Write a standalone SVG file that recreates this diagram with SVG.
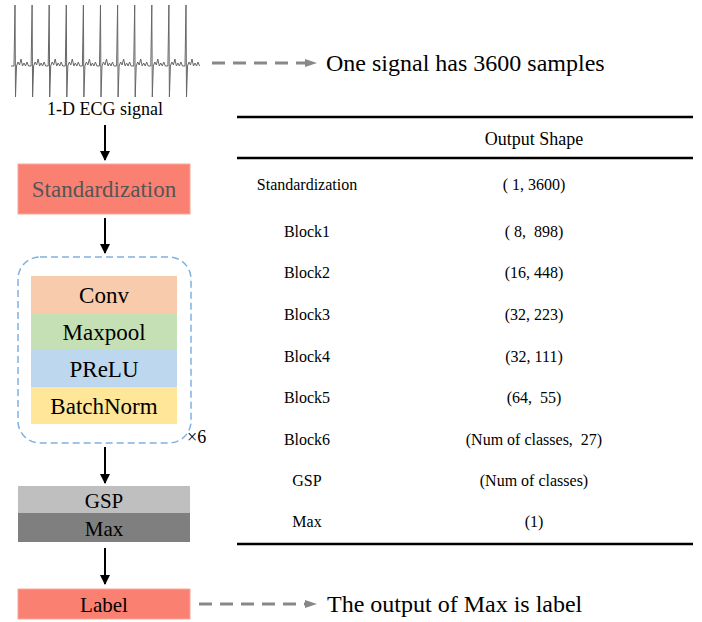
<svg xmlns="http://www.w3.org/2000/svg" width="702" height="622" viewBox="0 0 702 622">
<defs>
<style>
.t{font-family:"Liberation Serif","Times New Roman",serif;fill:#000}
.c{text-anchor:middle}
.arr{stroke:#000;stroke-width:2;fill:none;marker-end:url(#ah)}
.dash{stroke:#888;stroke-width:3;stroke-dasharray:13 8;fill:none}
.rule{stroke:#000;stroke-width:2.5}
</style>
<marker id="ah" viewBox="0 0 10 10" refX="9" refY="5" markerWidth="5" markerHeight="5" orient="auto" markerUnits="strokeWidth">
<path d="M0,0 L10,5 L0,10 z" fill="#000"/>
</marker>
</defs>
<rect width="702" height="622" fill="#fff"/>

<g id="ecg">
<path fill="none" stroke="#666" stroke-width="1" stroke-linejoin="round" d="M11,66 l3,0
l1,-61 l0.5,92 l1,-31 l1.5,-4 l1.5,3 l1.5,-6 l1.5,7 l1.5,-3 l1.5,3 l1.5,-4 l1.5,4 l2.6,0
l1,-61 l0.5,92 l1,-31 l1.5,-4 l1.5,3 l1.5,-6 l1.5,7 l1.5,-3 l1.5,3 l1.5,-4 l1.5,4 l2.6,0
l1,-61 l0.5,92 l1,-31 l1.5,-4 l1.5,3 l1.5,-6 l1.5,7 l1.5,-3 l1.5,3 l1.5,-4 l1.5,4 l2.6,0
l1,-61 l0.5,92 l1,-31 l1.5,-4 l1.5,3 l1.5,-6 l1.5,7 l1.5,-3 l1.5,3 l1.5,-4 l1.5,4 l2.6,0
l1,-61 l0.5,92 l1,-31 l1.5,-4 l1.5,3 l1.5,-6 l1.5,7 l1.5,-3 l1.5,3 l1.5,-4 l1.5,4 l2.6,0
l1,-61 l0.5,92 l1,-31 l1.5,-4 l1.5,3 l1.5,-6 l1.5,7 l1.5,-3 l1.5,3 l1.5,-4 l1.5,4 l2.6,0
l1,-61 l0.5,92 l1,-31 l1.5,-4 l1.5,3 l1.5,-6 l1.5,7 l1.5,-3 l1.5,3 l1.5,-4 l1.5,4 l2.6,0
l1,-61 l0.5,92 l1,-31 l1.5,-4 l1.5,3 l1.5,-6 l1.5,7 l1.5,-3 l1.5,3 l1.5,-4 l1.5,4 l2.6,0
l1,-61 l0.5,92 l1,-31 l1.5,-4 l1.5,3 l1.5,-6 l1.5,7 l1.5,-3 l1.5,3 l1.5,-4 l1.5,4 l2.6,0
l1,-61 l0.5,92 l1,-31 l1.5,-4 l1.5,3 l1.5,-6 l1.5,7 l1.5,-3 l1.5,3 l1.5,-4 l1.5,4 l2.6,0
l1,-61 l0.5,92 l1,-31 l1.5,-4 l1.5,3 l1.5,-6 l1.5,7 l1.5,-3 l1.5,3 l1.5,-4 l1.5,4"/>
<text class="t c" x="105" y="115" font-size="18">1-D ECG signal</text>
</g>

<g id="note1">
<text class="t" x="326" y="71" font-size="24">One signal has 3600 samples</text>
</g>

<g id="standardization">
<rect x="18" y="164" width="172" height="50" fill="#FA8072" stroke="#F6A99C" stroke-width="1"/>
<text class="t c" x="104" y="197" font-size="23" style="fill:#555">Standardization</text>
</g>

<g id="block">
<rect x="18" y="257" width="173" height="186" rx="22" ry="22" fill="none" stroke="#7FB2E0" stroke-width="1.5" stroke-dasharray="7 4"/>
<rect x="31" y="276" width="146" height="37" fill="#F8CBAD"/>
<rect x="31" y="313" width="146" height="37" fill="#C5E0B4"/>
<rect x="31" y="350" width="146" height="37" fill="#BDD7EE"/>
<rect x="31" y="387" width="146" height="37" fill="#FFE699"/>
<text class="t c" x="104" y="303" font-size="23">Conv</text>
<text class="t c" x="104" y="340" font-size="23">Maxpool</text>
<text class="t c" x="104" y="377" font-size="23">PReLU</text>
<text class="t c" x="104" y="414" font-size="23">BatchNorm</text>
<text class="t" x="187" y="443" font-size="18">×6</text>
</g>

<g id="gsp-max">
<rect x="18" y="486" width="172" height="27" fill="#BFBFBF"/>
<rect x="18" y="513" width="172" height="29" fill="#7F7F7F"/>
<text class="t c" x="104" y="508" font-size="21">GSP</text>
<text class="t c" x="104" y="536" font-size="21">Max</text>
</g>

<g id="label">
<rect x="18" y="589" width="172" height="30" fill="#FA8072" stroke="#F6A99C" stroke-width="1"/>
<text class="t c" x="104" y="612" font-size="21">Label</text>
</g>

<g id="note2">
<text class="t" x="327" y="612" font-size="24">The output of Max is label</text>
</g>

<g id="connectors">
<line class="arr" x1="105" y1="125" x2="105" y2="160"/>
<line class="arr" x1="105" y1="218" x2="105" y2="253"/>
<line class="arr" x1="105" y1="447" x2="105" y2="483"/>
<line class="arr" x1="105" y1="548" x2="105" y2="584"/>
<line class="dash" x1="212" y1="63" x2="305" y2="63"/>
<path d="M305,59 L317,63 L305,67 z" fill="#888"/>
<line class="dash" x1="199" y1="604" x2="305" y2="604"/>
<path d="M305,600 L317,604 L305,608 z" fill="#888"/>
</g>

<g id="table">
<line class="rule" x1="237" y1="117" x2="693" y2="117"/>
<line class="rule" x1="237" y1="158" x2="693" y2="158"/>
<line class="rule" x1="237" y1="544" x2="693" y2="544"/>
<text class="t c" x="534" y="145" font-size="18">Output Shape</text>
<g font-size="16">
<text class="t c" x="307" y="190">Standardization</text>
<text class="t c" x="534" y="190">( 1, 3600)</text>
<text class="t c" x="307" y="237">Block1</text>
<text class="t c" x="534" y="237">( 8, &#160;898)</text>
<text class="t c" x="307" y="278">Block2</text>
<text class="t c" x="534" y="278">(16, 448)</text>
<text class="t c" x="307" y="320">Block3</text>
<text class="t c" x="534" y="320">(32, 223)</text>
<text class="t c" x="307" y="362">Block4</text>
<text class="t c" x="534" y="362">(32, 111)</text>
<text class="t c" x="307" y="403">Block5</text>
<text class="t c" x="534" y="403">(64, &#160;55)</text>
<text class="t c" x="307" y="445">Block6</text>
<text class="t c" x="534" y="445">(Num of classes, &#160;27)</text>
<text class="t c" x="307" y="486">GSP</text>
<text class="t c" x="534" y="486">(Num of classes)</text>
<text class="t c" x="307" y="527">Max</text>
<text class="t c" x="534" y="527">(1)</text>
</g>
</g>
</svg>
